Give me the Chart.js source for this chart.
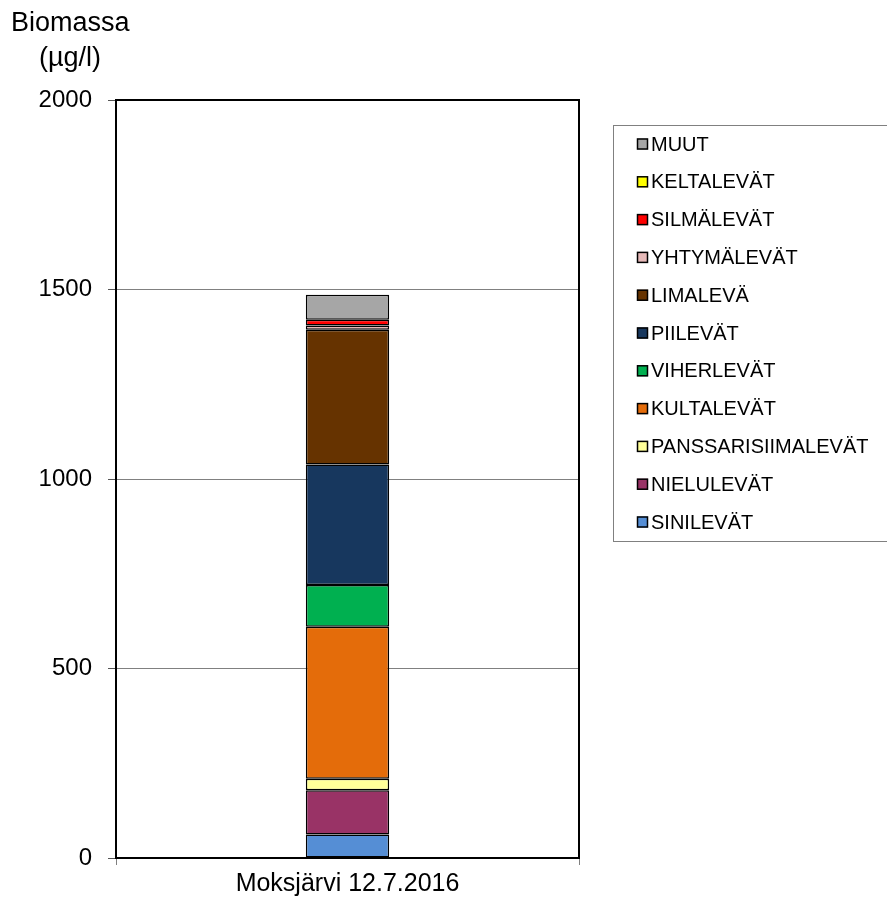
<!DOCTYPE html>
<html>
<head>
<meta charset="utf-8">
<script src="https://cdn.jsdelivr.net/npm/chart.js@4/dist/chart.umd.min.js"></script>
<style>
  html, body { margin: 0; padding: 0; background: #fff; }
  canvas { display: block; }
</style>
</head>
<body>
<canvas id="chart" width="887" height="900"></canvas>
<script>
// Sample
const categories = ['Moksjärvi 12.7.2016'];

// Algal groups, bottom of the stack first
const groupNames = [
  'SINILEVÄT', 'NIELULEVÄT', 'PANSSARISIIMALEVÄT', 'KULTALEVÄT', 'VIHERLEVÄT',
  'PIILEVÄT', 'LIMALEVÄ', 'YHTYMÄLEVÄT', 'SILMÄLEVÄT', 'KELTALEVÄT', 'MUUT'
];

// Biomass per group (µg/l)
const sinilevat = [62];
const nielulevat = [117];
const panssarisiimalevat = [30];
const kultalevat = [401];
const viherlevat = [110];
const piilevat = [318];
const limaleva = [356];
const yhtymalevat = [11];
const silmalevat = [15];
const keltalevat = [0];
const muut = [66];

const groupValues = [
  sinilevat, nielulevat, panssarisiimalevat, kultalevat, viherlevat,
  piilevat, limaleva, yhtymalevat, silmalevat, keltalevat, muut
];

const groupColors = [
  '#558ED5', '#993366', '#FFFF99', '#E46C0A', '#00B050',
  '#17375E', '#663300', '#E6B9B8', '#FF0000', '#FFFF00', '#A6A6A6'
];

const yTicks = [0, 500, 1000, 1500, 2000];
const yTitleLines = ['Biomassa', '(µg/l)'];

const FONT = "'Liberation Sans', Arial, sans-serif";
Chart.defaults.font.family = FONT;
Chart.defaults.color = '#000';

const datasets = groupNames.map((name, i) => ({
  label: name,
  data: groupValues[i],
  backgroundColor: groupColors[i],
  borderColor: '#000',
  borderWidth: 1.5,
  borderSkipped: false,
  inflateAmount: 0,
  categoryPercentage: 0.18,
  barPercentage: 1.0
}));

// Frame around the plot area
const frame = {
  id: 'frame',
  afterDatasetsDraw(chart) {
    const { ctx, chartArea: a } = chart;
    ctx.save();
    ctx.strokeStyle = '#000';
    ctx.lineWidth = 2;
    ctx.strokeRect(a.left, a.top, a.right - a.left, a.bottom - a.top);
    ctx.restore();
  }
};

// Axis title in the top-left corner
const axisTitle = {
  id: 'axisTitle',
  afterDraw(chart) {
    const ctx = chart.ctx;
    ctx.save();
    ctx.fillStyle = '#000';
    ctx.font = '27px ' + FONT;
    ctx.textBaseline = 'middle';
    ctx.textAlign = 'left';
    ctx.fillText(yTitleLines[0], 11, 24);
    ctx.textAlign = 'center';
    ctx.fillText(yTitleLines[1], 70, 59);
    ctx.restore();
  }
};

// Boxed legend on the right, top of the stack listed first
const boxLegend = {
  id: 'boxLegend',
  afterDraw(chart) {
    const ctx = chart.ctx;
    const items = chart.data.datasets.slice().reverse();
    ctx.save();
    ctx.strokeStyle = '#808080';
    ctx.lineWidth = 1;
    ctx.strokeRect(613.5, 125.5, 300, 416);
    ctx.font = '20px ' + FONT;
    ctx.textBaseline = 'middle';
    ctx.textAlign = 'left';
    items.forEach((ds, i) => {
      const y = 144 + i * 37.8;
      ctx.fillStyle = ds.backgroundColor;
      ctx.fillRect(637, y - 5.5, 11, 11);
      ctx.strokeStyle = '#000';
      ctx.lineWidth = 1.5;
      ctx.strokeRect(637.5, y - 5, 10, 10);
      ctx.fillStyle = '#000';
      ctx.fillText(ds.label, 651, y + 1);
    });
    ctx.restore();
  }
};

new Chart(document.getElementById('chart'), {
  type: 'bar',
  data: { labels: categories, datasets },
  options: {
    responsive: false,
    animation: false,
    devicePixelRatio: 1,
    layout: { padding: { left: 0, top: 100, right: 308, bottom: 0 } },
    plugins: {
      legend: { display: false },
      tooltip: { enabled: false }
    },
    scales: {
      x: {
        stacked: true,
        offset: true,
        grid: {
          offset: true,
          drawOnChartArea: false,
          tickLength: 7,
          color: '#808080'
        },
        border: { color: '#000', width: 2 },
        ticks: { font: { size: 25 }, padding: 4, color: '#000' },
        afterFit(scale) { scale.height = 42; }
      },
      y: {
        stacked: true,
        min: 0,
        max: 2000,
        afterBuildTicks(scale) { scale.ticks = yTicks.map(v => ({ value: v })); },
        grid: {
          color: '#808080',
          lineWidth: 1,
          tickLength: 8,
          tickColor: '#555'
        },
        border: { color: '#000', width: 2 },
        ticks: {
          font: { size: 24 },
          padding: 16,
          color: '#000',
          callback: (v) => String(v)
        },
        afterFit(scale) { scale.width = 116; }
      }
    }
  },
  plugins: [frame, axisTitle, boxLegend]
});
</script>
</body>
</html>
